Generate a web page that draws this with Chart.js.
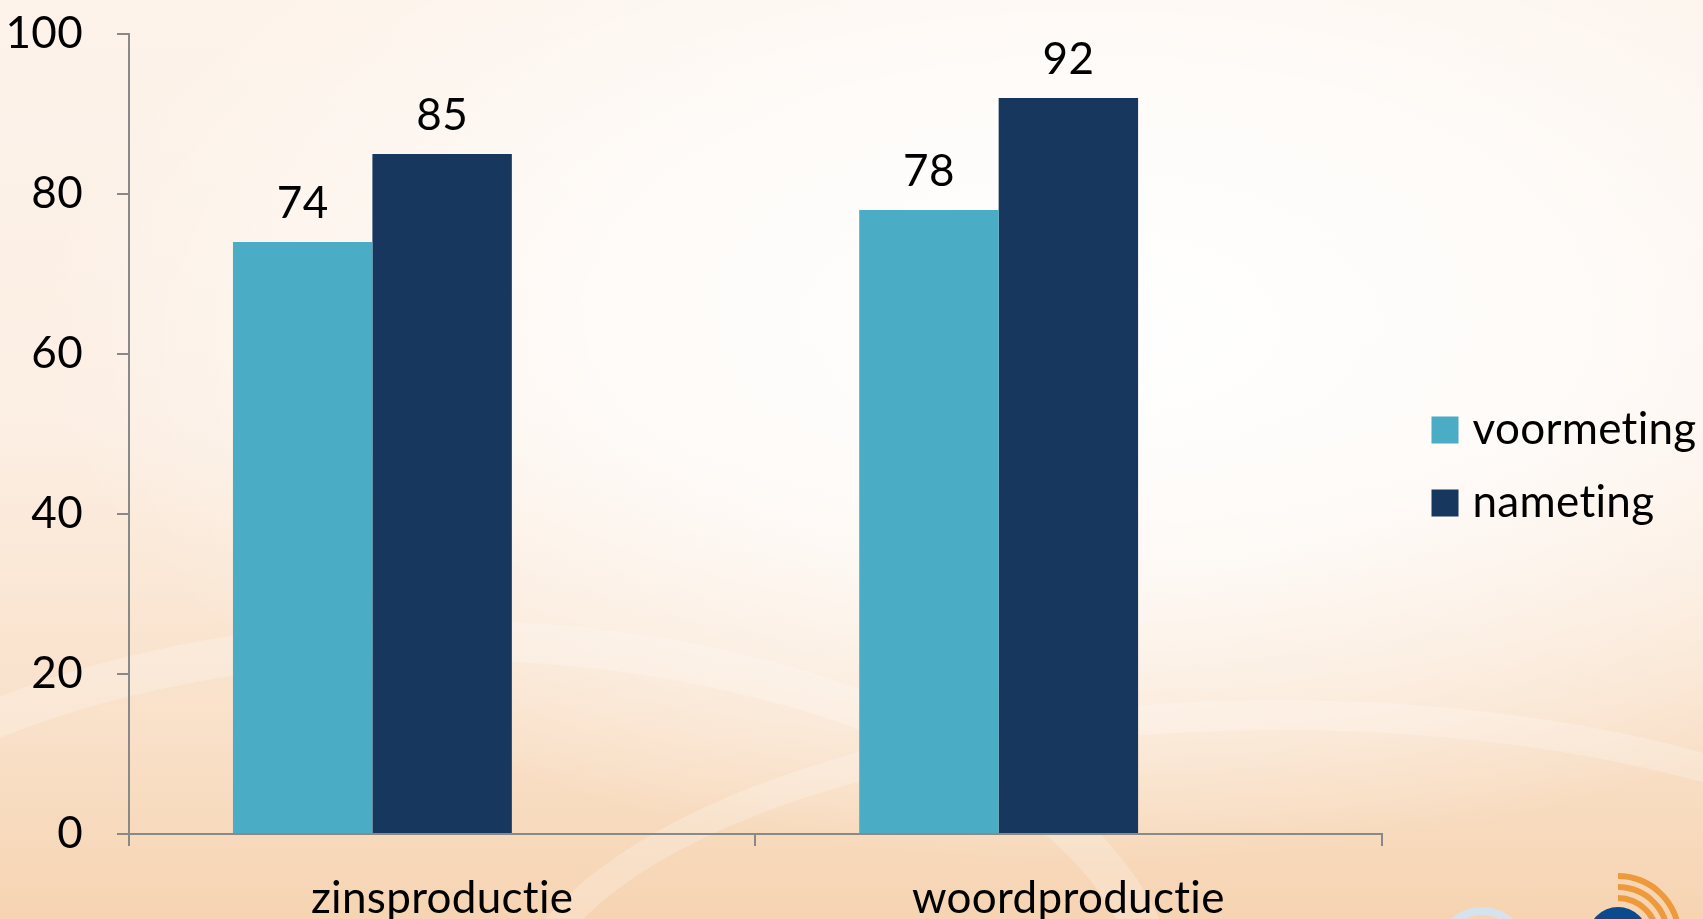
<!DOCTYPE html>
<html>
<head>
<meta charset="utf-8">
<script src="https://cdn.jsdelivr.net/npm/chart.js@4/dist/chart.umd.min.js"></script>
<style>
html, body { margin: 0; padding: 0; width: 1703px; height: 919px; overflow: hidden; }
body {
    position: relative;
    background:
        radial-gradient(ellipse 62% 58% at 64% 36%, rgba(255,255,255,1) 0%, rgba(255,255,255,0.75) 45%, rgba(255,255,255,0) 100%),
        linear-gradient(to bottom, #fdf3ea 0%, #fcefe4 45%, #f9e0c8 80%, #f6d4b2 100%);
}
.swoosh { position: absolute; border-radius: 50%; border: 40px solid rgba(255,255,255,0.22); }
.logo { position: absolute; border-radius: 50%; }
#wrap { position: absolute; left: 0; top: 0; width: 1703px; height: 919px; }
</style>
</head>
<body>
<div class="swoosh" style="left:-300px; top:620px; width:1400px; height:700px;"></div>
<div class="swoosh" style="left:500px; top:700px; width:1500px; height:600px; border-width:30px;"></div>
<div class="logo" style="left:1436px; top:907px; width:92px; height:92px; border:8px solid #d6e3ee; box-sizing:border-box;"></div>
<div class="logo" style="left:1588px; top:907px; width:60px; height:60px; background:#0b4a8c;"></div>
<div class="logo" style="left:1576px; top:895px; width:84px; height:84px; border:6px solid transparent; border-top-color:#ee9a3a; transform:rotate(45deg); box-sizing:border-box;"></div>
<div class="logo" style="left:1565px; top:884px; width:106px; height:106px; border:6px solid transparent; border-top-color:#ee9a3a; transform:rotate(45deg); box-sizing:border-box;"></div>
<div class="logo" style="left:1554px; top:873px; width:128px; height:128px; border:6px solid transparent; border-top-color:#ee9a3a; transform:rotate(45deg); box-sizing:border-box;"></div>
<div id="wrap"><canvas id="chart" width="1703" height="919"></canvas></div>
<script>
const categories = ['zinsproductie', 'woordproductie'];
const seriesNames = ['voormeting', 'nameting'];
const voormeting = [74, 78];
const nameting = [85, 92];
const yTicks = [0, 20, 40, 60, 80, 100];

const colors = ['#4BACC6', '#17375E'];
const fontFamily = 'Lato, "Open Sans", sans-serif';
const fontSize = 44;

// tiny letter spacing keeps Lato from joining "ti"
const noLigatures = {
    id: 'noLigatures',
    beforeDraw(chart) { chart.ctx.letterSpacing = '0.3px'; }
};

// numbers above the bars
const valueLabels = {
    id: 'valueLabels',
    afterDatasetsDraw(chart)
    {
        const ctx = chart.ctx;
        ctx.save();
        ctx.fillStyle = '#000';
        ctx.font = fontSize + 'px ' + fontFamily;
        ctx.textAlign = 'center';
        ctx.textBaseline = 'middle';
        chart.data.datasets.forEach((ds, i) => {
            if(!ds.label) return;
            chart.getDatasetMeta(i).data.forEach((bar, j) => {
                if(ds.data[j] == null) return;
                ctx.fillText(ds.data[j], bar.x, bar.y - 38);
            });
        });
        ctx.restore();
    }
};

// legend at the right, next to the plot
const sideLegend = {
    id: 'sideLegend',
    afterDraw(chart)
    {
        const ctx = chart.ctx;
        const x = chart.chartArea.right + 50;
        let y = 430;
        ctx.save();
        ctx.font = fontSize + 'px ' + fontFamily;
        ctx.textBaseline = 'middle';
        ctx.textAlign = 'left';
        chart.data.datasets.forEach(ds => {
            if(!ds.label) return;
            ctx.fillStyle = ds.backgroundColor;
            ctx.fillRect(x, y - 13.5, 27, 27);
            ctx.fillStyle = '#000';
            ctx.fillText(ds.label, x + 41, y);
            y += 73;
        });
        ctx.restore();
    }
};

const axisColor = '#898989';

new Chart(document.getElementById('chart'), {
    type: 'bar',
    data: {
        labels: categories,
        datasets: [
            { label: seriesNames[0], data: voormeting, backgroundColor: colors[0] },
            { label: seriesNames[1], data: nameting, backgroundColor: colors[1] },
            { label: '', data: categories.map(() => null), backgroundColor: 'rgba(0,0,0,0)' }
        ]
    },
    options: {
        responsive: false,
        animation: false,
        layout: { padding: { top: 34, right: 321.5, left: 0, bottom: 0 } },
        datasets: { bar: { categoryPercentage: 0.668, barPercentage: 1 } },
        plugins: { legend: { display: false }, tooltip: { enabled: false } },
        scales: {
            x: {
                grid: { drawOnChartArea: false, drawTicks: true, tickLength: 12, color: axisColor, lineWidth: 2, offset: true },
                border: { color: axisColor, width: 2 },
                ticks: { color: '#000', font: { family: fontFamily, size: fontSize }, padding: 26, maxRotation: 0 },
                afterFit: s => { s.height = 85; s.paddingLeft = 0; s.paddingRight = 0; }
            },
            y: {
                min: 0,
                max: 100,
                afterBuildTicks: s => { s.ticks = yTicks.map(v => ({ value: v })); },
                grid: { drawOnChartArea: false, drawTicks: true, tickLength: 12, color: axisColor, lineWidth: 2 },
                border: { color: axisColor, width: 2 },
                ticks: { color: '#000', font: { family: fontFamily, size: fontSize }, padding: 34 },
                afterFit: s => { s.width = 129; s.paddingTop = 0; s.paddingBottom = 0; }
            }
        }
    },
    plugins: [noLigatures, valueLabels, sideLegend]
});
</script>
</body>
</html>
